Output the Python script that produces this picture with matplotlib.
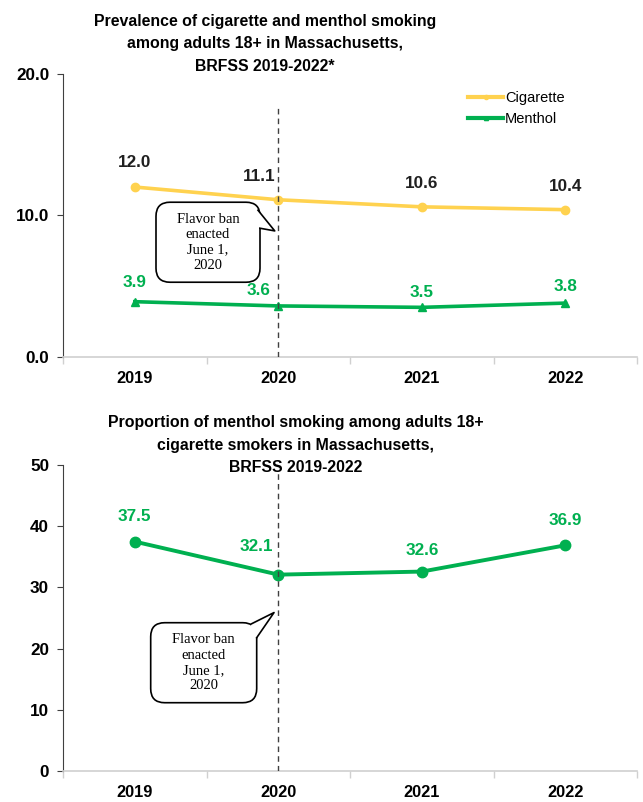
"""Cigarette / menthol smoking prevalence in Massachusetts, BRFSS 2019-2022."""

import matplotlib.pyplot as plt
from matplotlib.patches import FancyBboxPatch, Polygon
from matplotlib.lines import Line2D
from matplotlib.transforms import IdentityTransform
from matplotlib.ticker import FormatStrFormatter

years = ['2019', '2020', '2021', '2022']
cigarette = [12.0, 11.1, 10.6, 10.4]
menthol = [3.9, 3.6, 3.5, 3.8]
menthol_share = [37.5, 32.1, 32.6, 36.9]

ban_year = '2020'
ban_text = 'Flavor ban\nenacted\nJune 1,\n2020'

title_top = ('Prevalence of cigarette and menthol smoking\n'
             'among adults 18+ in Massachusetts,\nBRFSS 2019-2022*')
title_bottom = ('Proportion of menthol smoking among adults 18+\n'
                'cigarette smokers in Massachusetts,\nBRFSS 2019-2022')

YELLOW = '#FFD24F'
GREEN = '#00B050'
SANS = ['Liberation Sans', 'DejaVu Sans']
SERIF = ['Liberation Serif', 'DejaVu Serif']

plt.rcParams['font.family'] = SANS

fig = plt.figure(figsize=(6.43, 8.02), dpi=100)
ax1 = fig.add_axes([0.098, 0.555, 0.893, 0.353])
ax2 = fig.add_axes([0.098, 0.0387, 0.893, 0.3813])

x = list(range(len(years)))
ban_x = years.index(ban_year)


def style_axes(ax, ymax, step, fmt):
    ax.set_xlim(-0.5, len(years) - 0.5)
    ax.set_ylim(0, ymax)
    ax.set_yticks([v * step for v in range(int(ymax / step) + 1)])
    ax.yaxis.set_major_formatter(FormatStrFormatter(fmt))
    ax.set_xticks(x)
    ax.set_xticklabels(years)
    ax.set_xticks([i - 0.5 for i in range(len(years) + 1)], minor=True)
    ax.tick_params(axis='x', which='major', length=0, pad=10)
    ax.tick_params(axis='x', which='minor', length=5, color='#D0D0D0', width=1)
    ax.tick_params(axis='y', length=4, color='#404040', pad=6)
    for lab in ax.get_xticklabels():
        lab.set_fontweight('bold')
        lab.set_fontsize(11.8)
    for lab in ax.get_yticklabels():
        lab.set_fontweight('bold')
        lab.set_fontsize(12.3)
    ax.spines['top'].set_visible(False)
    ax.spines['right'].set_visible(False)
    ax.spines['bottom'].set_color('#D0D0D0')
    ax.spines['bottom'].set_linewidth(1.2)
    ax.spines['left'].set_color('#404040')
    ax.set_facecolor('none')


def label_points(ax, values, color, offsets):
    for xi, v, off in zip(x, values, offsets):
        ax.annotate(f'{v:.1f}', (xi, v), xytext=off, textcoords='offset points',
                    ha='center', va='center', fontsize=12.3, fontweight='bold',
                    color=color)


def callout(ax, cx, cy, w, h, tip, base1, base2):
    # speech bubble drawn in pixels, anchored to data positions
    px, py = ax.transData.transform((cx, cy))
    tx, ty = ax.transData.transform(tip)
    box = FancyBboxPatch((px - w / 2, py - h / 2), w, h,
                         boxstyle='round,pad=0,rounding_size=14',
                         fc='white', ec='black', lw=1.2,
                         transform=IdentityTransform(), zorder=6)
    fig.add_artist(box)
    right, top = px + w / 2, py + h / 2
    b1 = (right + base1[0], top + base1[1])
    b2 = (right + base2[0], top + base2[1])
    inner = (right - 10, top - 14)
    fig.add_artist(Polygon([inner, b1, (tx, ty), b2], closed=True, fc='white',
                           ec='none', transform=IdentityTransform(), zorder=7))
    fig.add_artist(Line2D([b1[0], tx, b2[0]], [b1[1], ty, b2[1]], color='black',
                          lw=1.2, transform=IdentityTransform(), zorder=8))
    fig.text(px / fig.bbox.width, py / fig.bbox.height, ban_text, ha='center',
             va='center', family=SERIF, fontsize=10.5, linespacing=1.22, zorder=9)


# ---- top chart ----
style_axes(ax1, 20, 10, '%.1f')
ax1.axvline(ban_x, ymax=0.89, color='#404040', lw=1, dashes=(4, 3), zorder=4)
ax1.plot(x, cigarette, color=YELLOW, lw=2.6, marker='o', ms=6, label='Cigarette',
         zorder=3)
ax1.plot(x, menthol, color=GREEN, lw=2.6, marker='^', ms=6, label='Menthol',
         zorder=3)
label_points(ax1, cigarette, '#202020', [(0, 18), (-14, 17), (0, 17), (0, 17)])
label_points(ax1, menthol, GREEN, [(0, 14), (-14, 11), (0, 11), (0, 12)])
leg = ax1.legend(loc='upper left', bbox_to_anchor=(0.683, 0.985), frameon=False,
                 fontsize=10.5, handlelength=2.4, handletextpad=0.1,
                 labelspacing=0.45, markerscale=0.5)
for h in leg.get_lines():
    h.set_linewidth(3)

fig.text(0.412, 0.983, title_top, ha='center', va='top', fontsize=11.4,
         fontweight='bold', linespacing=1.62)

# ---- bottom chart ----
style_axes(ax2, 50, 10, '%d')
ax2.axvline(ban_x, ymax=0.985, color='#404040', lw=1, dashes=(4, 3), zorder=4)
ax2.plot(x, menthol_share, color=GREEN, lw=2.8, marker='o', ms=7.5, zorder=3)
label_points(ax2, menthol_share, GREEN, [(0, 18), (-16, 20), (0, 15), (0, 18)])

fig.text(0.46, 0.482, title_bottom, ha='center', va='top', fontsize=11.4,
         fontweight='bold', linespacing=1.62)

callout(ax1, 0.51, 8.1, 104, 80, (0.975, 8.9), (-2, -8), (0, -26))
callout(ax2, 0.48, 17.7, 106, 80, (0.97, 25.9), (-5, -1), (0, -15))

fig.savefig('out.png', dpi=100)
